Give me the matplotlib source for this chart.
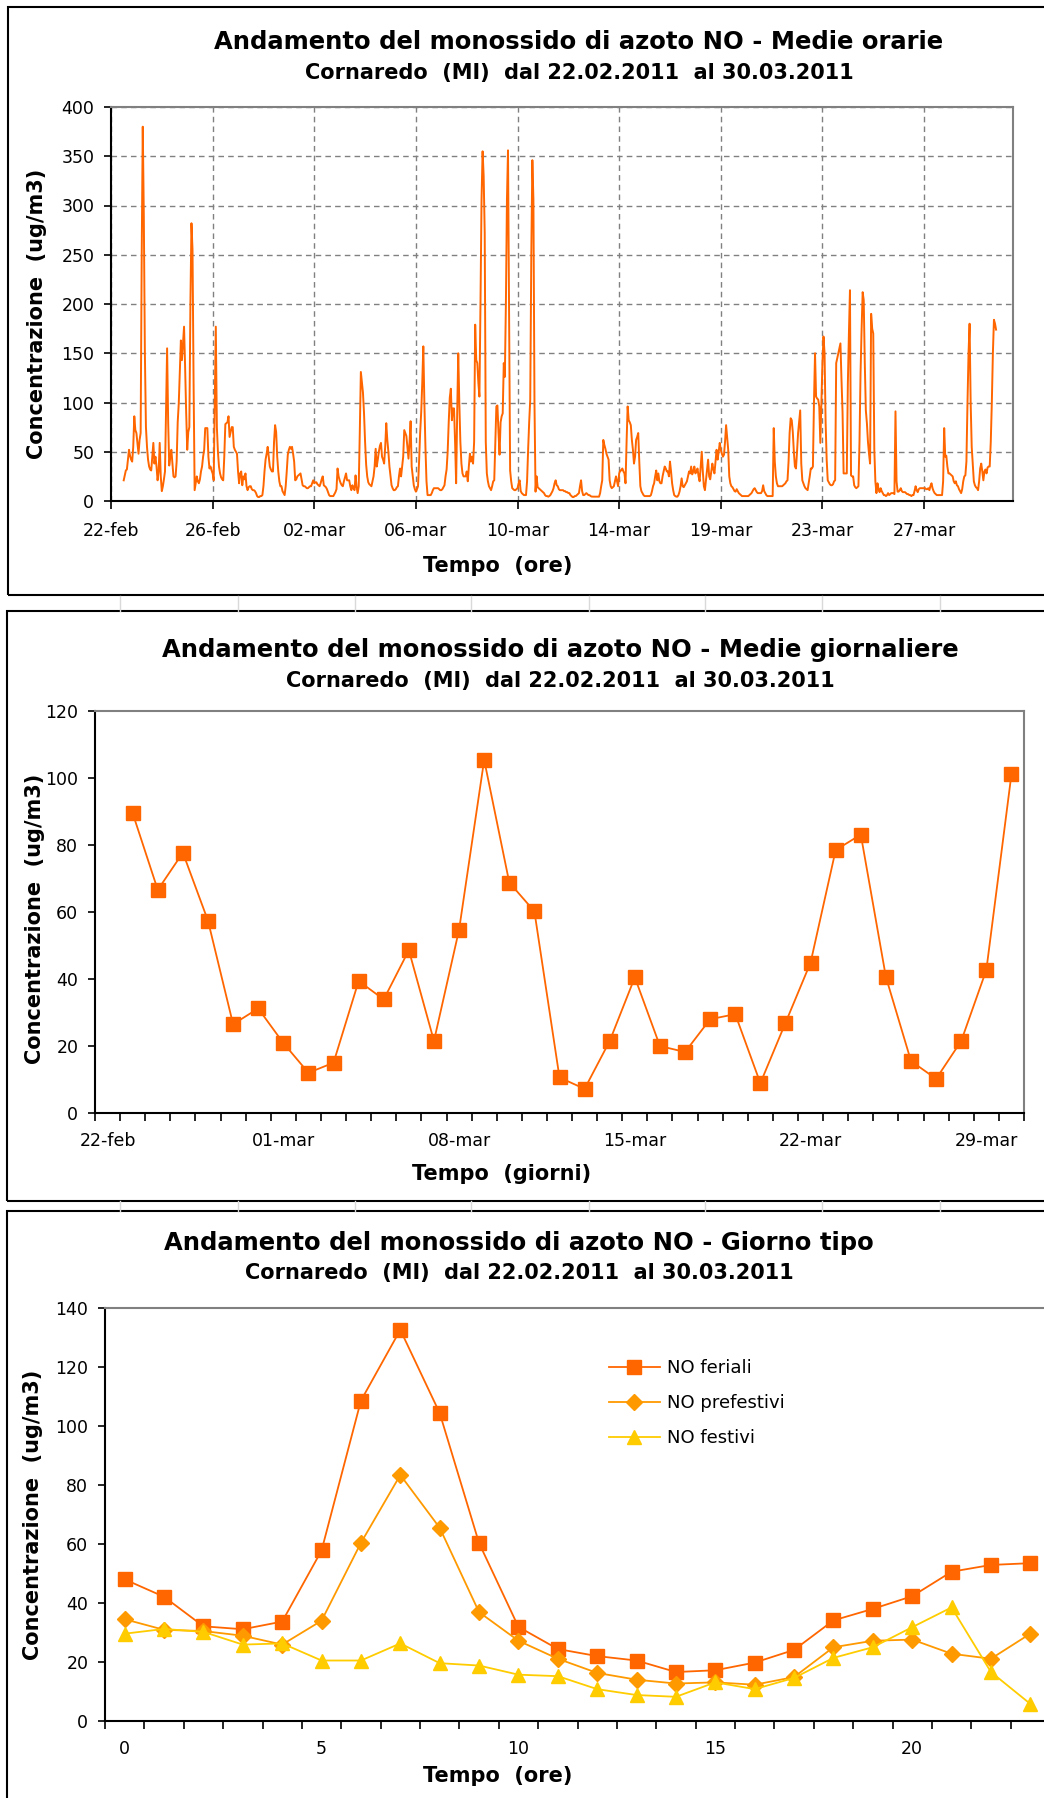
import matplotlib
matplotlib.use("Agg")
import matplotlib.pyplot as plt
from matplotlib.patches import Rectangle
import numpy as np

# --- dati: medie orarie NO (ug/m3), dalle 12:00 del 22-feb, una riga per giorno ---
ora_inizio = 12
no_orario = [
    21, 26, 31, 32, 42, 52, 46, 42, 40, 55, 86, 72,
    69, 58, 48, 62, 69, 250, 380, 289, 150, 75, 55, 42, 35, 32, 31, 45, 59, 38, 45, 35, 21, 30, 59, 25,
    10, 15, 22, 30, 90, 155, 80, 36, 45, 52, 38, 25, 24, 25, 40, 80, 99, 130, 163, 143, 160, 177, 136, 90,
    52, 70, 75, 200, 282, 255, 120, 11, 18, 25, 20, 18, 22, 30, 35, 45, 52, 74, 74, 74, 45, 33, 35, 31,
    28, 21, 100, 177, 75, 50, 35, 28, 24, 22, 21, 45, 78, 79, 80, 86, 65, 70, 75, 75, 55, 52, 50, 48,
    30, 18, 28, 30, 16, 25, 22, 28, 15, 11, 14, 15, 15, 12, 11, 11, 10, 8, 5, 4, 4, 5, 5, 6,
    15, 30, 42, 48, 55, 45, 35, 32, 30, 30, 60, 77, 70, 45, 30, 20, 15, 15, 10, 8, 6, 15, 30, 47,
    52, 55, 53, 55, 48, 40, 21, 22, 25, 26, 27, 28, 22, 16, 15, 15, 14, 13, 13, 14, 15, 15, 18, 21,
    18, 19, 19, 17, 16, 15, 18, 22, 25, 16, 15, 14, 12, 9, 6, 5, 5, 5, 5, 7, 9, 12, 33, 25,
    21, 18, 16, 15, 20, 24, 28, 21, 21, 21, 15, 11, 16, 13, 11, 26, 14, 8, 15, 70, 131, 120, 110, 89,
    60, 37, 25, 19, 17, 16, 15, 20, 25, 35, 53, 35, 42, 50, 56, 59, 45, 42, 38, 55, 79, 62, 50, 35,
    25, 16, 13, 11, 11, 12, 14, 15, 25, 33, 25, 35, 45, 72, 69, 66, 55, 43, 60, 81, 35, 25, 16, 12,
    9.5, 12, 15, 40, 69, 90, 120, 157, 100, 55, 20, 6, 6, 6, 6, 8, 11, 13, 13, 13, 13, 13, 12, 11,
    11, 12, 14, 16, 25, 32, 50, 80, 105, 114, 82, 94, 94, 60, 18, 90, 150, 100, 60, 38, 28, 25, 25, 25,
    30, 20, 35, 48, 40, 45, 38, 60, 179, 143, 140, 120, 106, 200, 306, 355, 330, 272, 60, 28, 20, 15, 13, 11,
    15, 20, 21, 60, 96, 97, 70, 47, 80, 86, 89, 140, 126, 200, 306, 356, 200, 31, 20, 13, 12, 11, 11, 12,
    13, 18, 21, 10, 8, 7, 6, 6, 6, 20, 52, 80, 103, 250, 346, 306, 100, 9.5, 25, 14, 13, 12, 11, 10,
    9, 8, 6, 5, 5, 4.4, 5, 6, 8, 10, 13, 18, 21, 16, 15, 12, 11, 11, 11, 11, 10, 10, 9, 9,
    8, 8, 6, 5, 4, 4, 5, 5, 6, 7, 8, 15, 21, 10, 6, 6, 7, 8, 7, 6, 6, 5, 4.5, 4.4,
    4.4, 4.4, 4.4, 4.4, 4.4, 4.4, 8, 15, 21, 62, 57, 53, 48, 45, 42, 21, 15, 13, 14, 15, 20, 25, 20, 15,
    28, 31, 31, 33, 30, 28, 18, 60, 96, 82, 80, 77, 62, 52, 38, 45, 62, 65, 69, 40, 15, 10, 8, 6,
    5, 5, 5, 5, 5, 5, 6, 10, 15, 18, 25, 31, 21, 28, 20, 18, 18, 25, 30, 35, 33, 30, 30, 25,
    40, 30, 18, 11, 6, 5, 4.4, 4.4, 6, 9.5, 15, 23, 15, 14, 16, 18, 20, 25, 30, 28, 35, 27, 30, 35,
    28, 30, 33, 25, 20, 35, 50, 30, 15, 11, 21, 30, 42, 25, 22, 30, 38, 32, 28, 40, 52, 42, 50, 59,
    52, 48, 45, 47, 60, 77, 65, 52, 25, 18, 15, 14, 12, 10, 9.5, 12, 10, 8, 7, 6, 5, 5, 5, 5,
    5, 5, 5, 6, 7, 8, 10, 12, 13, 11, 9, 8, 8, 8, 8, 10, 16, 10, 8, 6, 5, 5, 5, 5,
    5, 5, 74, 40, 25, 18, 15, 15, 15, 15, 15, 16, 17, 18, 20, 21, 40, 69, 84, 82, 70, 50, 35, 33,
    50, 69, 80, 92, 38, 21, 18, 15, 13, 12, 11, 18, 25, 33, 33, 35, 100, 150, 106, 104, 103, 96, 59, 100,
    140, 167, 150, 80, 42, 21, 19, 17, 16, 16, 17, 20, 21, 140, 145, 150, 155, 160, 123, 90, 28, 28, 28, 28,
    119, 170, 214, 26, 25, 25, 16, 14, 13, 14, 15, 60, 130, 175, 212, 204, 140, 92, 79, 60, 48, 38, 190, 175,
    170, 52, 20, 8, 18, 12, 9, 13, 10, 8, 6, 6, 5, 6, 8, 6, 7, 8, 8, 8, 7, 91, 20, 9.5,
    9.5, 11, 13, 10, 9, 9, 9, 8, 7, 7, 6, 6, 5, 6, 6, 10, 15, 11, 9, 12, 13, 13, 13, 13,
    13, 13, 12, 12, 13, 11, 15, 18, 13, 10, 8, 7, 6, 6, 6, 6, 6, 6, 20, 74, 45, 46, 35, 28,
    28, 27, 26, 25, 20, 18, 20, 16, 15, 12, 10, 8, 12, 20, 25, 26, 40, 99, 150, 180, 100, 55, 38, 20,
    16, 14, 13, 11, 20, 33, 38, 30, 21, 30, 32, 28, 34, 35, 35, 60, 100, 150, 184, 180, 174,
]
ore_per_etichetta = 96
etichette_orarie = ['22-feb', '26-feb', '02-mar', '06-mar', '10-mar',
                    '14-mar', '19-mar', '23-mar', '27-mar']

# medie giornaliere dal 23-feb al 30-mar
no_giornaliero = [89.5, 66.6, 77.7, 57.4, 26.5, 31.2, 20.9, 12.0, 15.0, 39.4,
                  33.9, 48.6, 21.5, 54.7, 105.4, 68.8, 60.2, 10.6, 7.2, 21.5,
                  40.5, 20.0, 18.2, 28.0, 29.5, 8.9, 26.9, 44.9, 78.5, 83.1,
                  40.6, 15.5, 10.2, 21.5, 42.7, 101.1]
etichette_giorni = ['22-feb', '01-mar', '08-mar', '15-mar', '22-mar', '29-mar']

# giorno tipo
ore = list(range(24))
no_feriali = [48.0, 42.1, 32.1, 31.1, 33.7, 57.8, 108.6, 132.6, 104.4, 60.3, 31.9, 24.4,
              22.0, 20.5, 16.6, 17.2, 19.8, 24.1, 34.1, 38.0, 42.3, 50.6, 52.9, 53.5]
no_prefestivi = [34.5, 30.9, 30.5, 28.9, 25.9, 34.0, 60.4, 83.4, 65.5, 36.9, 27.2, 21.1,
                 16.3, 14.0, 12.7, 13.1, 12.3, 14.9, 25.0, 27.2, 27.6, 22.8, 21.1, 29.6]
no_festivi = [29.6, 31.2, 30.2, 25.9, 26.3, 20.5, 20.5, 26.3, 19.6, 18.8, 15.7, 15.2,
              10.8, 8.8, 8.2, 13.1, 10.8, 14.6, 21.4, 25.0, 31.8, 38.5, 16.6, 5.8]

W, H = 1044, 1798
ARANCIO = '#FF6600'
GRIGIO = '#808080'
SOTTOTITOLO = 'Cornaredo  (MI)  dal 22.02.2011  al 30.03.2011'
YLABEL = 'Concentrazione  (ug/m3)'


def box(x0, y0, x1, y1):
    # coordinate in pixel dall'alto a sinistra
    return [x0 / W, 1 - y1 / H, (x1 - x0) / W, (y1 - y0) / H]


def testo(fig, x, y, s, **kw):
    fig.text(x / W, 1 - y / H, s, ha='center', va='center', **kw)


def stile_assi(ax):
    for lato in ['top', 'right']:
        ax.spines[lato].set_color(GRIGIO)
    for lato in ['left', 'bottom']:
        ax.spines[lato].set_color('black')
    for s in ax.spines.values():
        s.set_linewidth(1.5)
    ax.tick_params(axis='both', labelsize=12.5, direction='out', width=1.2, length=5)
    ax.tick_params(axis='y', pad=7)


def cornice(fig, x0, y0, x1, y1):
    fig.add_artist(Rectangle((x0 / W, 1 - y1 / H), (x1 - x0) / W, (y1 - y0) / H,
                             transform=fig.transFigure, fill=False,
                             edgecolor='black', linewidth=1.5))


def griglia_foglio(fig, y0, y1):
    # righe chiare del foglio di calcolo visibili tra i grafici
    for xc in [120, 238, 355, 471, 589, 705, 822, 940]:
        fig.add_artist(plt.Line2D([xc / W, xc / W], [1 - y1 / H, 1 - y0 / H],
                                  transform=fig.transFigure, color='#D9D9D9', lw=1))


def titoli(fig, xc, y_tit, y_sub, titolo, x_yl, y_yl, x_xl, y_xl, xlabel):
    testo(fig, xc, y_tit, titolo, fontsize=17.5, fontweight='bold')
    testo(fig, xc, y_sub, SOTTOTITOLO, fontsize=15, fontweight='bold')
    testo(fig, x_yl, y_yl, YLABEL, fontsize=15, fontweight='bold', rotation=90)
    testo(fig, x_xl, y_xl, xlabel, fontsize=15, fontweight='bold')


def grafico_orario(fig):
    cornice(fig, 8, 7, 1070, 595)
    ax = fig.add_axes(box(111, 107, 1013, 501))
    x = np.arange(ora_inizio, ora_inizio + len(no_orario))
    ax.plot(x, no_orario, color=ARANCIO, linewidth=1.4)
    ax.set_xlim(0, 852)
    ax.set_ylim(0, 400)
    ax.set_xticks(np.arange(len(etichette_orarie)) * ore_per_etichetta)
    ax.set_xticklabels(etichette_orarie)
    ax.set_yticks(range(0, 401, 50))
    ax.grid(True, color=GRIGIO, linestyle=(0, (4, 3)), linewidth=1)
    stile_assi(ax)
    ax.tick_params(axis='x', pad=9, length=6)
    titoli(fig, 579, 42, 73, 'Andamento del monossido di azoto NO - Medie orarie',
           37, 314, 498, 566, 'Tempo  (ore)')


def grafico_giornaliero(fig):
    griglia_foglio(fig, 596, 611)
    cornice(fig, 7, 611, 1070, 1201)
    ax = fig.add_axes(box(95, 711, 1024, 1113))
    n = len(no_giornaliero) + 1
    x = np.arange(1, n) + 0.5
    ax.plot(x, no_giornaliero, color=ARANCIO, linewidth=1.3,
            marker='s', markersize=10.5, markeredgecolor=ARANCIO)
    ax.set_xlim(0, n)
    ax.set_ylim(0, 120)
    ax.set_yticks(range(0, 121, 20))
    ax.set_xticks(np.arange(0, n, 7) + 0.5)
    ax.set_xticklabels(etichette_giorni)
    ax.set_xticks(np.arange(0, n + 1), minor=True)
    stile_assi(ax)
    ax.tick_params(axis='x', which='major', length=0, pad=14)
    ax.tick_params(axis='x', which='minor', length=6, width=1.2)
    titoli(fig, 560, 650, 681, 'Andamento del monossido di azoto NO - Medie giornaliere',
           35, 919, 502, 1174, 'Tempo  (giorni)')


def grafico_giorno_tipo(fig):
    griglia_foglio(fig, 1201, 1211)
    cornice(fig, 7, 1211, 1070, 1830)
    ax = fig.add_axes(box(105, 1308, 1050, 1721))
    ax.plot(ore, no_feriali, color=ARANCIO, linewidth=1.3, marker='s',
            markersize=10.5, label='NO feriali')
    ax.plot(ore, no_prefestivi, color='#FF9900', linewidth=1.3, marker='D',
            markersize=8.5, label='NO prefestivi')
    ax.plot(ore, no_festivi, color='#FFCC00', linewidth=1.3, marker='^',
            markersize=10.5, label='NO festivi')
    ax.set_xlim(-0.5, 23.5)
    ax.set_ylim(0, 140)
    ax.set_yticks(range(0, 141, 20))
    ax.set_xticks(range(0, 24, 5))
    ax.set_xticks(np.arange(-0.5, 24, 1), minor=True)
    stile_assi(ax)
    ax.tick_params(axis='x', which='major', length=0, pad=14)
    ax.tick_params(axis='x', which='minor', length=6, width=1.2)
    ax.legend(loc='upper left', bbox_to_anchor=(600 / W, 1 - 1350 / H),
              bbox_transform=fig.transFigure, frameon=False, fontsize=13,
              handlelength=2.8, labelspacing=0.95, borderpad=0, handletextpad=0.4)
    titoli(fig, 519, 1243, 1273, 'Andamento del monossido di azoto NO - Giorno tipo',
           33, 1515, 498, 1776, 'Tempo  (ore)')


def main():
    fig = plt.figure(figsize=(W / 100, H / 100), dpi=100)
    fig.patch.set_facecolor('white')
    grafico_orario(fig)
    grafico_giornaliero(fig)
    grafico_giorno_tipo(fig)
    fig.savefig('out.png', dpi=100)


if __name__ == "__main__":
    main()
